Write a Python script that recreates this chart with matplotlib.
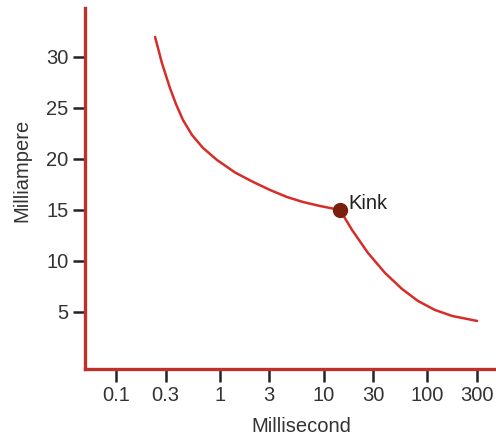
import matplotlib
matplotlib.use("Agg")
import matplotlib.pyplot as plt

# Data
time_ms = [0.238, 0.277, 0.331, 0.378, 0.442, 0.540, 0.689, 0.940,
           1.40, 2.09, 3.05, 4.44, 6.34, 9.23, 14.4,
           18.8, 26.8, 39.1, 56.9, 81.1, 118, 173, 301]
current_ma = [31.96, 29.41, 26.96, 25.39, 23.82, 22.35, 21.08, 19.90,
              18.68, 17.75, 16.96, 16.27, 15.78, 15.39, 15.0,
              13.04, 10.78, 8.82, 7.26, 6.08, 5.20, 4.61, 4.12]
kink_x = [14.4]
kink_y = [15.0]
x_ticks = [0.1, 0.3, 1, 3, 10, 30, 100, 300]
x_tick_labels = ["0.1", "0.3", "1", "3", "10", "30", "100", "300"]
y_ticks = [5, 10, 15, 20, 25, 30]

plt.rcParams['font.family'] = ['Liberation Sans', 'DejaVu Sans']

W, H = 496, 437
fig = plt.figure(figsize=(W / 100, H / 100), dpi=100)
ax = fig.add_axes([85 / W, 68 / H, 1 - 85 / W, (369 - 8) / H])

line_red = "#d62d28"
spine_red = "#c0302a"

ax.plot(time_ms, current_ma, color=line_red, lw=1.8, solid_capstyle='round',
        solid_joinstyle='round', zorder=3)
ax.plot(kink_x, kink_y, 'o', color="#7a1f0c", markersize=10, zorder=4)
ax.annotate("Kink", xy=(kink_x[0], kink_y[0]), xytext=(6, 5), textcoords='offset points',
            fontsize=14.5, color="#222222", va='center', ha='left')

ax.set_xscale('log')
ax.set_xlim(0.0503, 458)
ax.set_ylim(-0.59, 34.8)
ax.set_xticks(x_ticks)
ax.set_xticklabels(x_tick_labels)
ax.xaxis.set_minor_locator(matplotlib.ticker.NullLocator())
ax.set_yticks(y_ticks)

for s in ['top', 'right']:
    ax.spines[s].set_visible(False)
for s in ['left', 'bottom']:
    ax.spines[s].set_color(spine_red)
    ax.spines[s].set_linewidth(2.4)

ax.tick_params(axis='both', direction='out', length=9, width=1.8, color='#222222',
               labelsize=14.5, labelcolor='#333333', pad=3)

ax.set_xlabel("Millisecond", fontsize=14.5, color='#333333')
ax.set_ylabel("Milliampere", fontsize=14.5, color='#333333')
ax.xaxis.set_label_coords((301 - 85) / 411, (369 - 427) / 361)
ax.yaxis.set_label_coords((22 - 85) / 411, (369 - 170) / 361)
ax.xaxis.label.set_va('center')
ax.yaxis.label.set_va('center')

fig.savefig("out.png", dpi=100)
